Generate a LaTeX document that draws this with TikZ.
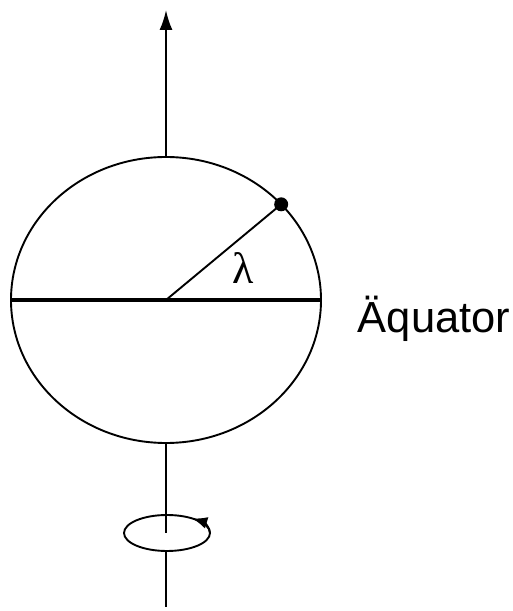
\documentclass[tikz,border=0pt]{standalone}
\usepackage{fontspec}
\setsansfont{Liberation Sans}
\newfontfamily\lambdafont{Liberation Serif}
\usetikzlibrary{arrows.meta, calc}

\begin{document}
\begin{tikzpicture}[x=1pt, y=1pt, line width=1.9pt]

    \useasboundingbox (0,0) rectangle (512,611);

    % Centre of the sphere and the axis ends
    \coordinate (M)       at (166, 311);
    \coordinate (Pole_N)  at (166, 454);
    \coordinate (Pole_S)  at (166, 168);
    \coordinate (Tip)     at (166, 601);
    \coordinate (Axis_a)  at (166, 78);
    \coordinate (Axis_b)  at (166, 60);
    \coordinate (Axis_end) at (166, 4);

    % Equator ends
    \coordinate (E_left)  at (11, 311);
    \coordinate (E_right) at (321, 311);

    % Point on the surface at latitude lambda
    \coordinate (P) at ($(M)+(42:155 and 143)$);

    % Rotation ellipse
    \coordinate (R) at (167, 78);

    % Axis with arrow on top
    \draw[-{Latex[length=20pt, width=13pt]}] (Pole_N) -- (Tip);
    \draw (Pole_S) -- (Axis_a);
    \draw (Axis_b) -- (Axis_end);

    % Sphere and equator
    \draw (M) ellipse[x radius=155, y radius=143];
    \draw[line width=4pt] (E_left) -- (E_right);
    \node[anchor=base west, inner sep=0, font=\sffamily\fontsize{43.5}{43.5}\selectfont] (aequator) at (357, 278) {Äquator};

    % Radius to the point, and the angle
    \draw (M) -- (P);
    \fill[black] (P) circle (7);
    \node[font=\lambdafont\fontsize{44}{44}\selectfont] (lambda) at (243, 343) {λ};

    % Sense of rotation
    \draw (R) ellipse[x radius=43, y radius=18];
    \draw[-{Latex[length=15pt, width=12pt]}] ($(R)+(0:43 and 18)$) arc[start angle=0, end angle=54, x radius=43, y radius=18];

\end{tikzpicture}
\end{document}
